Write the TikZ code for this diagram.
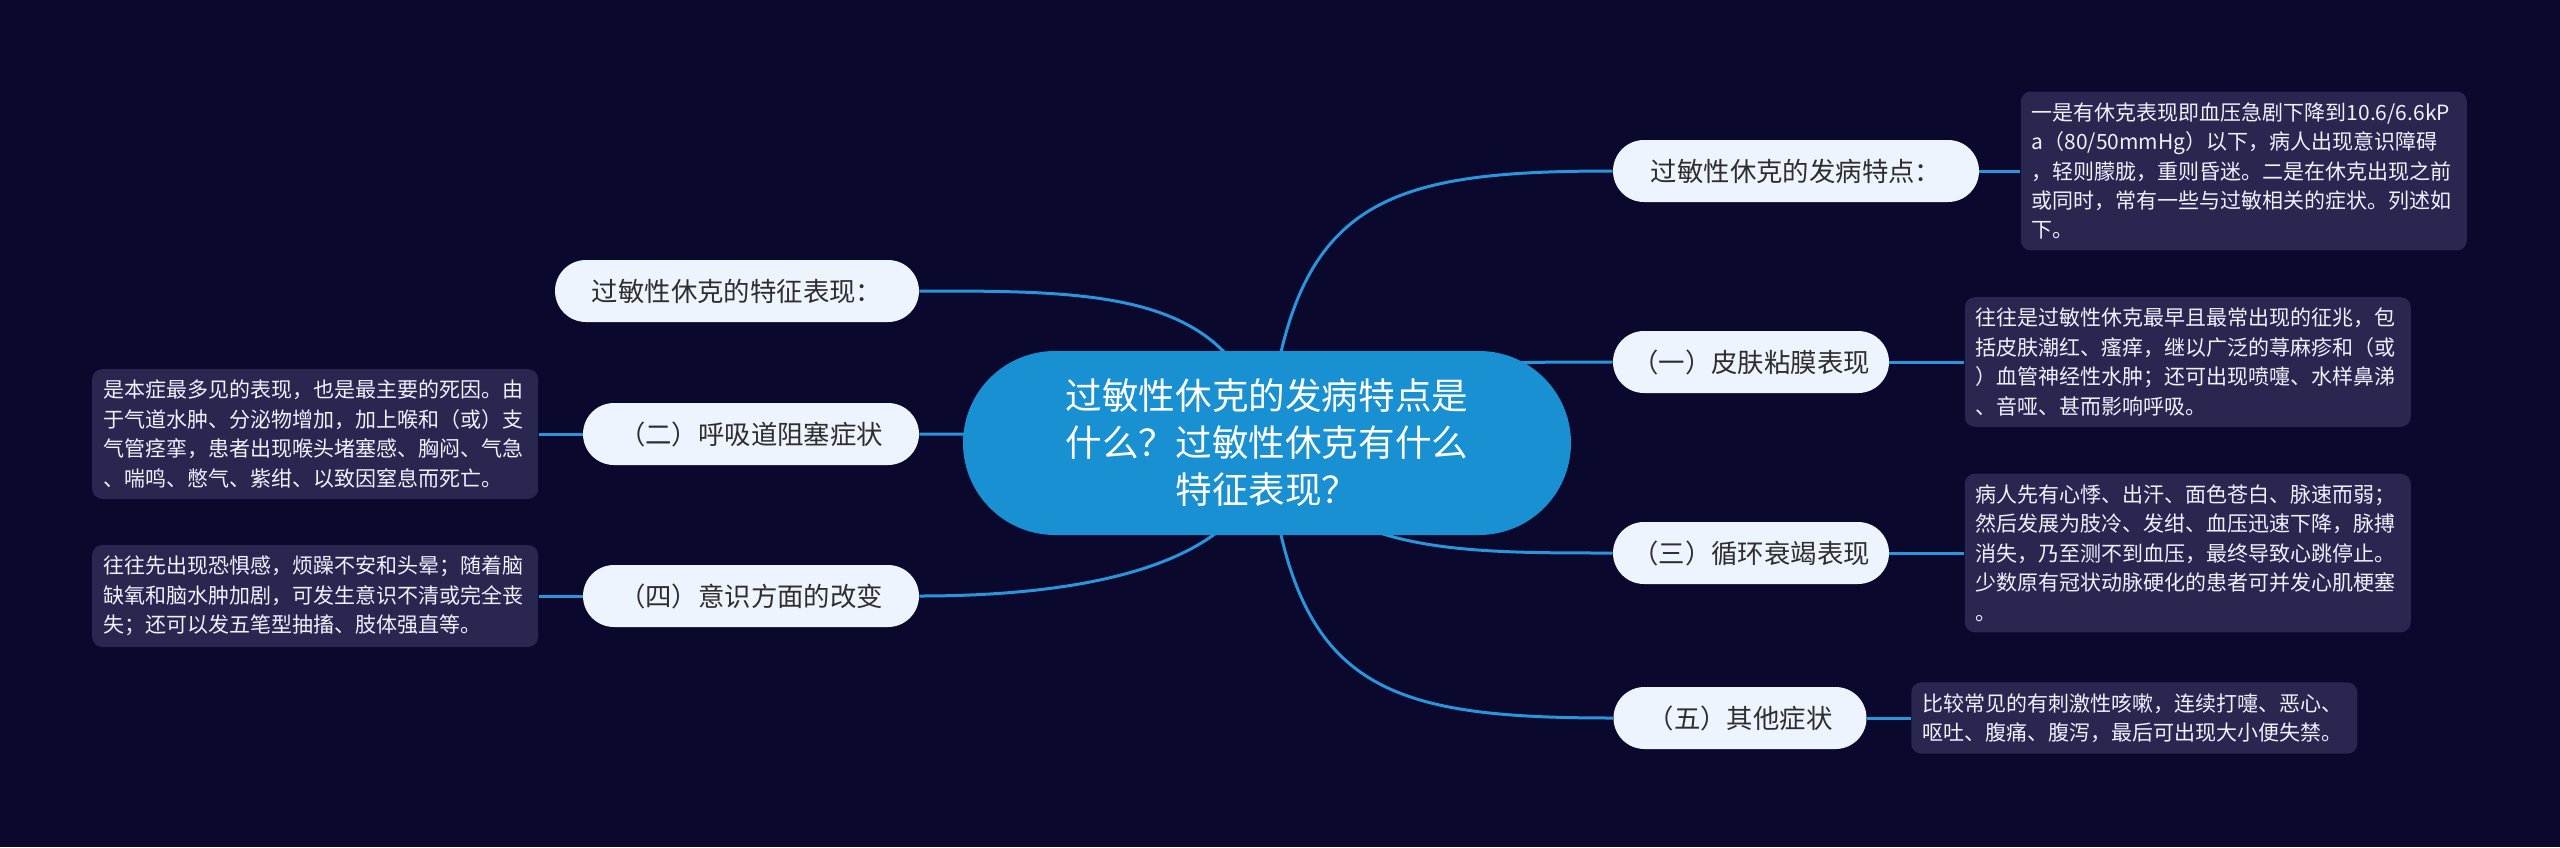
\documentclass[tikz,border=0pt]{standalone}
\usepackage{fontspec}
\setmainfont{Noto Sans CJK SC}
\usetikzlibrary{positioning}
\definecolor{bgnavy}{HTML}{0A082D}
\definecolor{hubblue}{HTML}{1890D2}
\definecolor{pillwhite}{HTML}{EEF4FD}
\definecolor{memonavy}{HTML}{29264F}
\definecolor{branchblue}{HTML}{2A95DA}
\pgfdeclarelayer{bg}\pgfdeclarelayer{links}\pgfsetlayers{bg,links,main}
\begin{document}
\begin{tikzpicture}[x=0.5pt, y=-0.5pt, line join=round, line cap=round,
	hub/.style={fill=hubblue, text=white, rounded corners=46pt, minimum width=304pt, minimum height=92pt, align=center, font=\fontsize{18.3}{23.5}\selectfont},
	pill/.style={fill=pillwhite, text=black!82, rounded corners=15.5pt, minimum height=31pt, minimum width=#1, inner xsep=0pt, font=\fontsize{13.2}{16}\selectfont},
	memo/.style={fill=memonavy, text=white!94!blue, rounded corners=5pt, align=left, text width=212pt, inner xsep=5.5pt, inner ysep=5.5pt, font=\fontsize{10.5}{14.7}\selectfont},
	branch/.style={draw=branchblue, line width=1.5pt}]
	\useasboundingbox (0,0) rectangle (2560,847);
	\begin{pgfonlayer}{bg}
		\fill[bgnavy] (0,0) rectangle (2560,847);
	\end{pgfonlayer}
	% centre
	\node[hub] (hub) at (1267,443) {过敏性休克的发病特点是\\什么？过敏性休克有什么\\特征表现？};
	% right side
	\node[pill=183pt] (p1) at (1796,171) {过敏性休克的发病特点：};
	\node[pill=138pt] (p2) at (1751,362) {（一）皮肤粘膜表现};
	\node[pill=138pt] (p3) at (1751,553) {（三）循环衰竭表现};
	\node[pill=126.5pt] (p4) at (1740,718) {（五）其他症状};
	\node[memo, right=20.5pt of p1] (n1) {一是有休克表现即血压急剧下降到10.6/6.6kP\\a（80/50mmHg）以下，病人出现意识障碍\\，轻则朦胧，重则昏迷。二是在休克出现之前\\或同时，常有一些与过敏相关的症状。列述如\\下。};
	\node[memo, right=37.5pt of p2] (n2) {往往是过敏性休克最早且最常出现的征兆，包\\括皮肤潮红、瘙痒，继以广泛的荨麻疹和（或\\）血管神经性水肿；还可出现喷嚏、水样鼻涕\\、音哑、甚而影响呼吸。};
	\node[memo, right=37.5pt of p3] (n3) {病人先有心悸、出汗、面色苍白、脉速而弱；\\然后发展为肢冷、发绀、血压迅速下降，脉搏\\消失，乃至测不到血压，最终导致心跳停止。\\少数原有冠状动脉硬化的患者可并发心肌梗塞\\。};
	\node[memo, right=22pt of p4] (n4) {比较常见的有刺激性咳嗽，连续打嚏、恶心、\\呕吐、腹痛、腹泻，最后可出现大小便失禁。};
	% left side
	\node[pill=182pt] (l1) at (737,291) {过敏性休克的特征表现：};
	\node[pill=168pt] (l2) at (751,434) {（二）呼吸道阻塞症状};
	\node[pill=168pt] (l3) at (751,596) {（四）意识方面的改变};
	\node[memo, left=22pt of l2] (m2) {是本症最多见的表现，也是最主要的死因。由\\于气道水肿、分泌物增加，加上喉和（或）支\\气管痉挛，患者出现喉头堵塞感、胸闷、气急\\、喘鸣、憋气、紫绀、以致因窒息而死亡。};
	\node[memo, left=22pt of l3] (m3) {往往先出现恐惧感，烦躁不安和头晕；随着脑\\缺氧和脑水肿加剧，可发生意识不清或完全丧\\失；还可以发五笔型抽搐、肢体强直等。};
	\begin{pgfonlayer}{links}
		\draw[branch] (hub.center) .. controls (1290,200) and (1380,171) .. (p1.west);
		\draw[branch] (hub.center) .. controls (1330,362) and (1450,362) .. (p2.west);
		\draw[branch] (hub.center) .. controls (1330,553) and (1450,553) .. (p3.west);
		\draw[branch] (hub.center) .. controls (1290,689) and (1380,718) .. (p4.west);
		\draw[branch] (hub.center) .. controls (1240,290) and (1100,291) .. (l1.east);
		\draw[branch] (hub.center) .. controls (1100,434) and (1000,434) .. (l2.east);
		\draw[branch] (hub.center) .. controls (1260,560) and (1100,596) .. (l3.east);
		\foreach \a/\b in {p1/n1,p2/n2,p3/n3,p4/n4,l2/m2,l3/m3}
			\draw[branch] (\a) -- (\b);
	\end{pgfonlayer}
\end{tikzpicture}
\end{document}
